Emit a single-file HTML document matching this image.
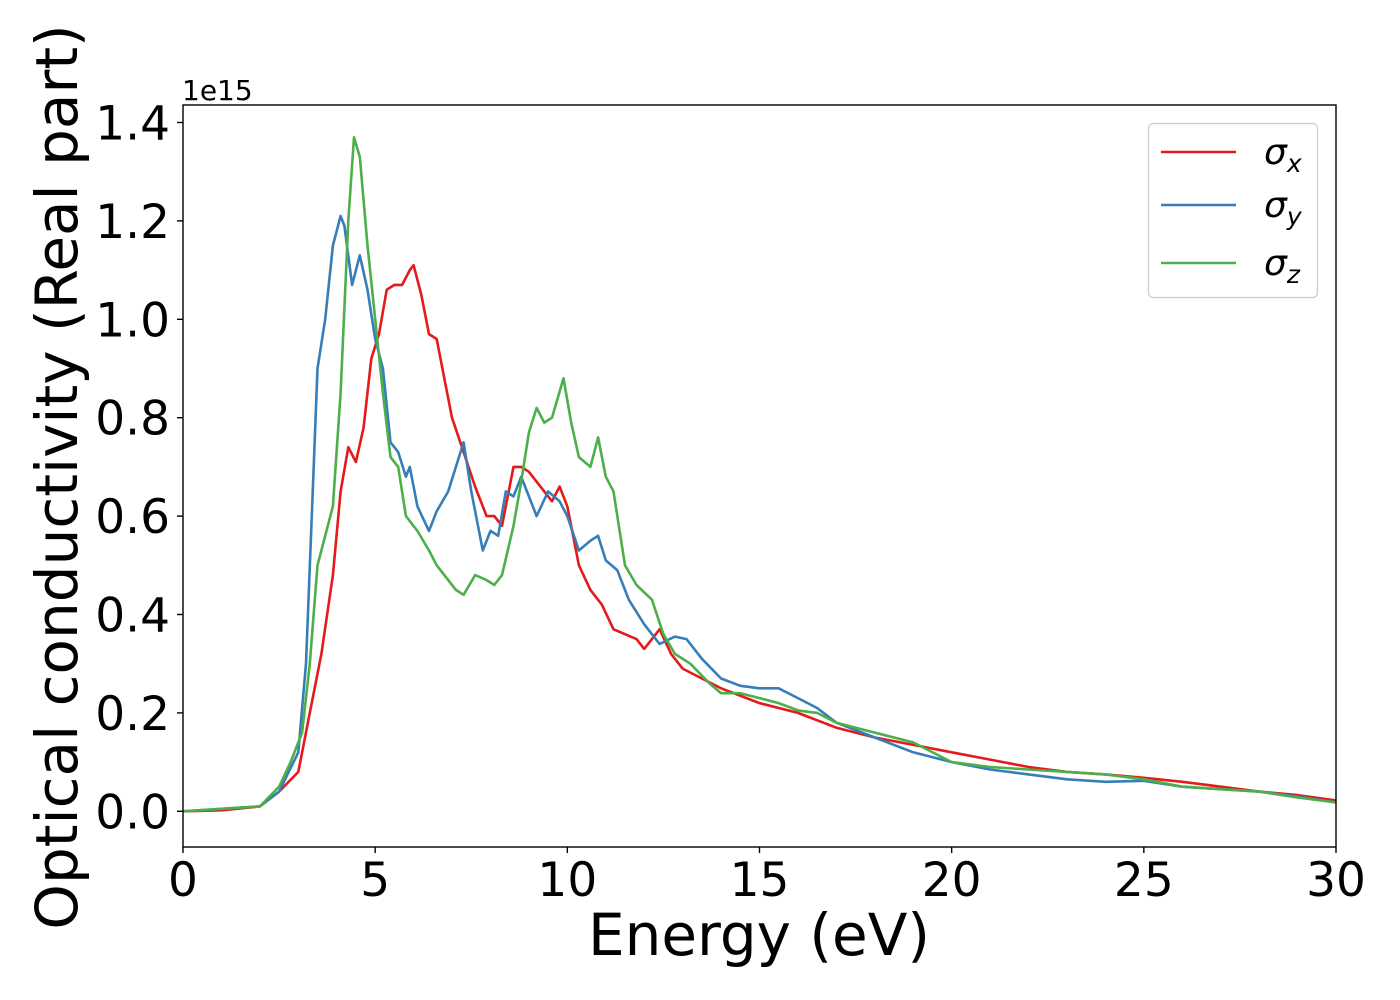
<!DOCTYPE html>
<html><head><meta charset="utf-8"><style>
body{margin:0;background:#fff;}
svg{display:block;font-family:"DejaVu Sans","Liberation Sans",sans-serif;}
</style></head><body>
<svg id="chart" width="1400" height="1000">
<g id="plot"></g>
</svg>
<script>
const sxX=[0,1,2,2.5,3,3.3,3.6,3.9,4.1,4.3,4.5,4.7,4.9,5.1,5.3,5.5,5.7,5.9,6.0,6.2,6.4,6.6,6.8,7.0,7.3,7.6,7.9,8.1,8.3,8.6,8.8,9.0,9.3,9.6,9.8,10.0,10.3,10.6,10.9,11.2,11.5,11.8,12.0,12.4,12.7,13.0,13.5,14,15,16,17,18,19,20,21,22,23,24,25,26,27,28,29,30];
const sxY=[0,0.002,0.01,0.04,0.08,0.2,0.32,0.48,0.65,0.74,0.71,0.78,0.92,0.97,1.06,1.07,1.07,1.1,1.11,1.05,0.97,0.96,0.88,0.8,0.73,0.66,0.6,0.6,0.58,0.7,0.7,0.69,0.66,0.63,0.66,0.62,0.5,0.45,0.42,0.37,0.36,0.35,0.33,0.37,0.32,0.29,0.27,0.25,0.22,0.2,0.17,0.15,0.135,0.12,0.105,0.09,0.08,0.075,0.068,0.06,0.05,0.04,0.033,0.022];
const syX=[0,2,2.5,3,3.2,3.4,3.5,3.7,3.9,4.1,4.2,4.4,4.6,4.8,5.0,5.2,5.4,5.6,5.8,5.9,6.1,6.4,6.6,6.9,7.1,7.3,7.5,7.8,8.0,8.2,8.4,8.6,8.8,9.0,9.2,9.5,9.8,10.0,10.3,10.6,10.8,11.0,11.3,11.6,12.0,12.4,12.8,13.1,13.5,14,14.5,15,15.5,16,16.5,17,18,19,20,21,22,23,24,25,26,27,28,29,30];
const syY=[0,0.01,0.04,0.12,0.3,0.7,0.9,1.0,1.15,1.21,1.19,1.07,1.13,1.06,0.96,0.9,0.75,0.73,0.68,0.7,0.62,0.57,0.61,0.65,0.7,0.75,0.65,0.53,0.57,0.56,0.65,0.64,0.68,0.64,0.6,0.65,0.63,0.6,0.53,0.55,0.56,0.51,0.49,0.43,0.38,0.34,0.355,0.35,0.31,0.27,0.255,0.25,0.25,0.23,0.21,0.18,0.15,0.12,0.1,0.085,0.075,0.065,0.06,0.062,0.05,0.045,0.04,0.03,0.018];
const szX=[0,2,2.5,2.8,3.1,3.3,3.5,3.7,3.9,4.1,4.3,4.45,4.6,4.8,5.0,5.2,5.4,5.6,5.8,6.1,6.4,6.6,6.9,7.1,7.3,7.6,7.9,8.1,8.3,8.6,8.8,9.0,9.2,9.4,9.6,9.9,10.1,10.3,10.6,10.8,11.0,11.2,11.5,11.8,12.2,12.5,12.8,13.2,13.7,14,14.5,15,15.5,16,16.5,17,18,19,20,21,22,23,24,25,26,27,28,29,30];
const szY=[0,0.01,0.05,0.1,0.16,0.3,0.5,0.56,0.62,0.85,1.2,1.37,1.33,1.15,1.0,0.85,0.72,0.7,0.6,0.57,0.53,0.5,0.47,0.45,0.44,0.48,0.47,0.46,0.48,0.58,0.67,0.77,0.82,0.79,0.8,0.88,0.79,0.72,0.7,0.76,0.68,0.65,0.5,0.46,0.43,0.36,0.32,0.3,0.26,0.24,0.24,0.23,0.22,0.205,0.2,0.18,0.16,0.14,0.1,0.09,0.085,0.08,0.075,0.065,0.05,0.045,0.04,0.028,0.018];
const xTicks=[0,5,10,15,20,25,30];
const yTicks=[0,0.2,0.4,0.6,0.8,1.0,1.2,1.4];
const yTickLabels=["0.0","0.2","0.4","0.6","0.8","1.0","1.2","1.4"];
const seriesNames=["σx","σy","σz"];

const L=183,R=1336,T=105,B=847,Y0=811.3,YS=98.4/0.2;
const xs=v=>L+(v-0)*(R-L)/30;
const ys=v=>Y0-v*YS;
const NS="http://www.w3.org/2000/svg";
const g=document.getElementById('plot');
function mk(t,a,p){const e=document.createElementNS(NS,t);for(const k in a)e.setAttribute(k,a[k]);(p||g).appendChild(e);return e;}

const clip=mk('clipPath',{id:'cp'});mk('rect',{x:L,y:T,width:R-L,height:B-T},clip);
const series=[[sxX,sxY,'#e41a1c','sigma-x-line'],[syX,syY,'#377eb8','sigma-y-line'],[szX,szY,'#4daf4a','sigma-z-line']];
series.forEach(s=>{
  const d=s[0].map((x,i)=>(i?'L':'M')+xs(x).toFixed(1)+','+ys(s[1][i]).toFixed(1)).join('');
  const p=mk('path',{d:d,fill:'none',stroke:s[2],'stroke-width':2.6,'stroke-linejoin':'round','clip-path':'url(#cp)'});
  
  
});
const frame=mk('rect',{x:L,y:T,width:R-L,height:B-T,fill:'none',stroke:'#000','stroke-width':1.4});


xTicks.forEach(v=>{
  mk('line',{x1:xs(v),x2:xs(v),y1:B,y2:B+6,stroke:'#000','stroke-width':1.4});
  const t=mk('text',{x:xs(v),y:B+49,'text-anchor':'middle','font-size':47});
  t.textContent=v;
  
  
});
yTicks.forEach((v,i)=>{
  mk('line',{x1:L-6,x2:L,y1:ys(v),y2:ys(v),stroke:'#000','stroke-width':1.4});
  const t=mk('text',{x:170,y:ys(v)+17,'text-anchor':'end','font-size':47});
  t.textContent=yTickLabels[i];
  
  
});
const off=mk('text',{x:182,y:100,'font-size':28});off.textContent='1e15';


const xl=mk('text',{x:759,y:955,'text-anchor':'middle','font-size':58});xl.textContent='Energy (eV)';


const yl=mk('text',{x:0,y:0,'text-anchor':'middle','font-size':58,transform:'translate(77,477) rotate(-90)'});yl.textContent='Optical conductivity (Real part)';



const lg=mk('g',{});


mk('rect',{x:1148.5,y:123.5,width:169,height:174,rx:5,fill:'#fff','fill-opacity':0.8,stroke:'#ccc','stroke-width':1.2},lg);
const ly=[152,205,263];
series.forEach((s,i)=>{
  const e=mk('g',{},lg);
  
  
  mk('line',{x1:1161,x2:1236,y1:ly[i],y2:ly[i],stroke:s[2],'stroke-width':2.6},e);
  const t=mk('text',{x:1264,y:ly[i]+12,'font-size':36,'font-style':'italic'},e);
  t.textContent=seriesNames[i][0];
  const sub=mk('tspan',{'font-size':25,dy:8},t);sub.textContent=seriesNames[i].slice(1);
});
</script>
</body></html>
